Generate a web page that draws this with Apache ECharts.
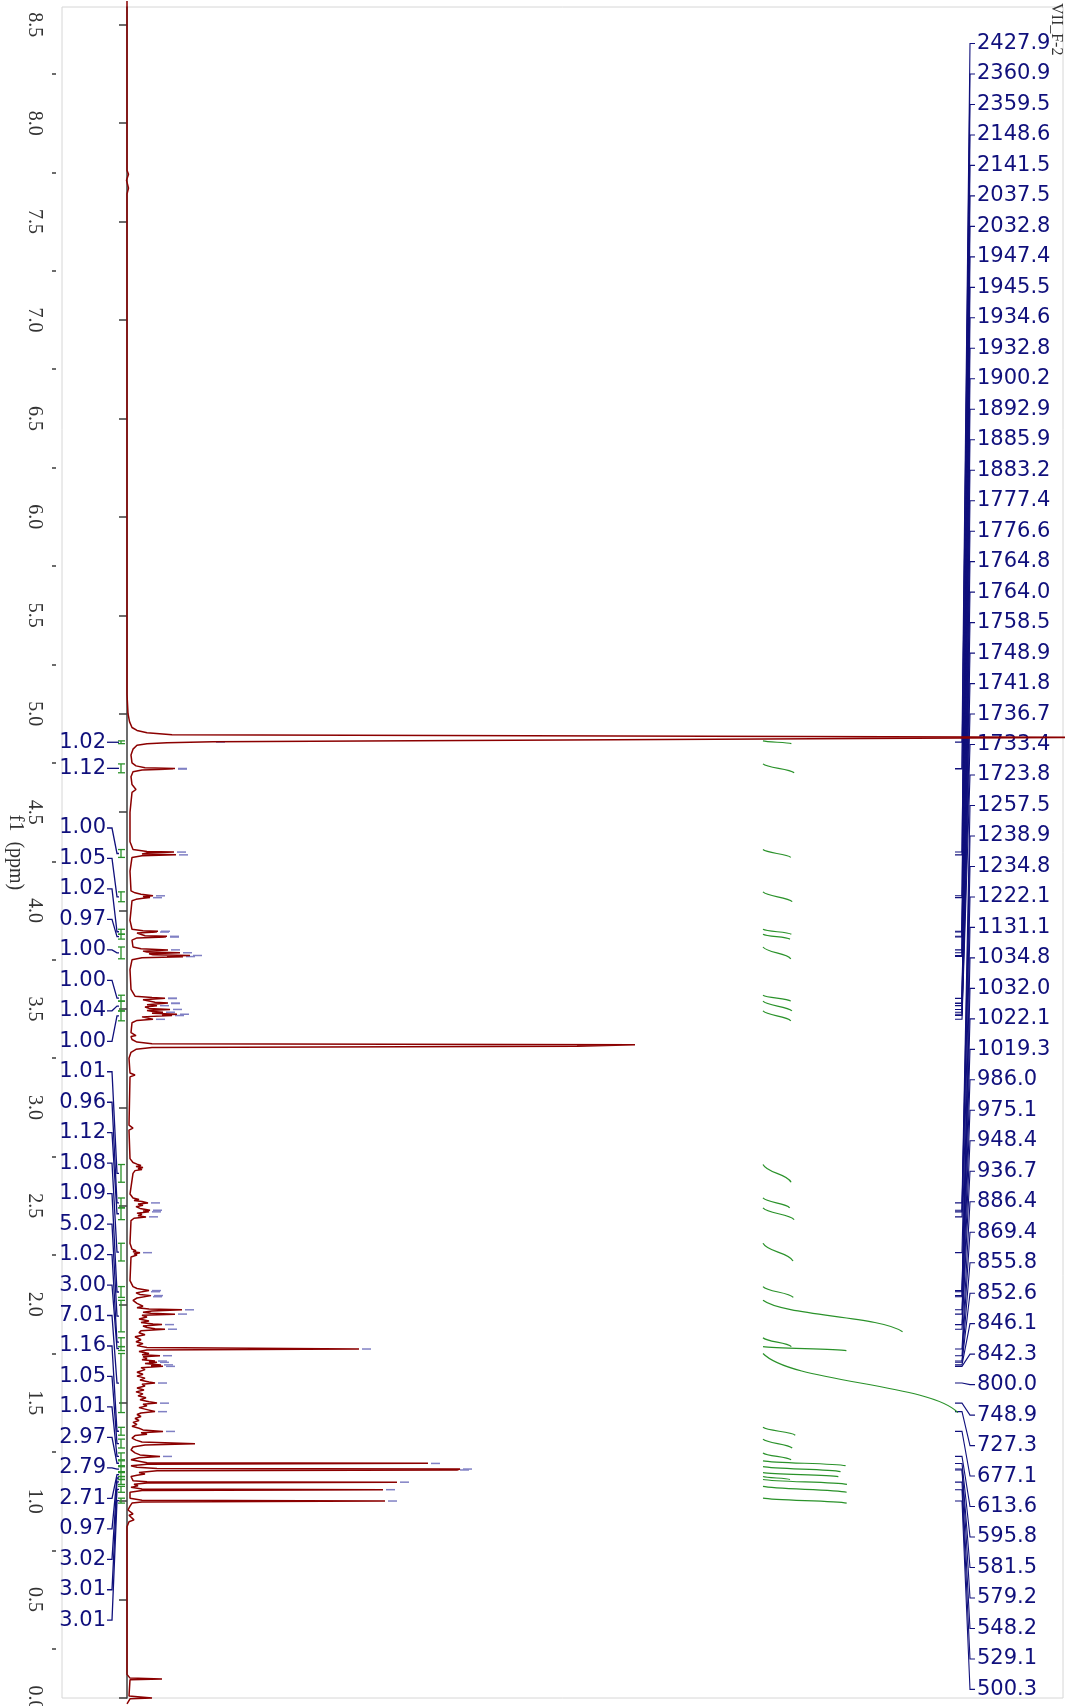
<!DOCTYPE html>
<html>
<head>
<meta charset="utf-8">
<title>VII_F-2</title>
<script src="https://cdn.jsdelivr.net/npm/echarts@6/dist/echarts.min.js"></script>
<style>
  html, body { margin: 0; padding: 0; background: #fff; }
  #main { width: 1070px; height: 1706px; }
</style>
</head>
<body>
<div id="main"></div>
<script>
// 1H spectrum, 500 MHz, shown turned on its side: ppm runs down the page
const SF = 500; // MHz, peak labels are in Hz

const ppmMajorTicks = [0.0, 0.5, 1.0, 1.5, 2.0, 2.5, 3.0, 3.5, 4.0, 4.5, 5.0, 5.5, 6.0, 6.5, 7.0, 7.5, 8.0, 8.5];
const ppmMinorTicks = [0.25, 0.75, 1.25, 1.75, 2.25, 2.75, 3.25, 3.75, 4.25, 4.75, 5.25, 5.75, 6.25, 6.75, 7.25, 7.75, 8.25];

// [ppm, intensity], intensity 0 = baseline
const spectrum = [
  [8.62, 0], [7.76, 0], [7.74, 0.15], [7.71, -0.05], [7.67, 0.15], [7.64, 0],
  [5.10, 0], [5.00, 0.1], [4.96, 0.25], [4.93, 0.5], [4.915, 1.0], [4.903, 2.0], [4.893, 4.5],
  [4.880, 95], [4.857, 8.6], [4.853, 4], [4.848, 2], [4.840, 1.0], [4.82, 0.6],
  [4.79, 0.4], [4.75, 0.5], [4.735, 0.9], [4.726, 1.8], [4.722, 4.8], [4.720, 3.0], [4.719, 4.6],
  [4.714, 1.5], [4.705, 0.6], [4.68, 0.4], [4.64, 0.5], [4.615, 0.9], [4.60, 0.5], [4.50, 0.3],
  [4.35, 0.3], [4.31, 0.6], [4.300, 2.0], [4.297, 4.7], [4.292, 2.0], [4.287, 1.5], [4.283, 4.9],
  [4.279, 1.5], [4.27, 0.5], [4.20, 0.3], [4.10, 0.4], [4.09, 0.8], [4.083, 1.4], [4.078, 2.2],
  [4.075, 2.6], [4.071, 1.6], [4.066, 2.3], [4.062, 1.6], [4.057, 0.9], [4.05, 0.5], [3.95, 0.3],
  [3.905, 0.5], [3.898, 1.6], [3.895, 3.1], [3.893, 2.2], [3.891, 3.0], [3.886, 1.0], [3.878, 0.8],
  [3.872, 1.8], [3.869, 4.0], [3.867, 3.2], [3.866, 3.9], [3.861, 1.0], [3.85, 0.5], [3.815, 0.6],
  [3.806, 1.4], [3.800, 4.1], [3.794, 1.6], [3.789, 2.0], [3.786, 5.3], [3.781, 2.2], [3.776, 2.6],
  [3.772, 6.3], [3.769, 4.0], [3.766, 5.6], [3.760, 1.5], [3.75, 0.5], [3.70, 0.3], [3.60, 0.4],
  [3.565, 0.8], [3.558, 2.5], [3.555, 3.8], [3.553, 3.5], [3.547, 1.6], [3.540, 1.8], [3.534, 2.8],
  [3.530, 4.1], [3.528, 4.0], [3.522, 2.0], [3.517, 3.0], [3.510, 1.8], [3.503, 2.2], [3.498, 4.3],
  [3.492, 2.0], [3.487, 2.6], [3.484, 3.6], [3.478, 2.5], [3.473, 5.0], [3.470, 3.5], [3.467, 4.5],
  [3.460, 1.5], [3.453, 1.4], [3.448, 2.6], [3.442, 1.0], [3.43, 0.5], [3.38, 0.4], [3.365, 0.9],
  [3.36, 0.4], [3.345, 0.5], [3.332, 1.0], [3.324, 2.5], [3.318, 50.8], [3.311, 45], [3.305, 2.5],
  [3.295, 0.9], [3.28, 0.4], [3.25, 0.2], [3.175, 0.3], [3.165, 0.8], [3.155, 0.3], [2.91, 0.2],
  [2.895, 0.6], [2.885, 0.2], [2.74, 0.3], [2.72, 0.6], [2.712, 1.0], [2.705, 1.4], [2.700, 0.9],
  [2.695, 1.6], [2.690, 1.1], [2.685, 1.5], [2.679, 0.8], [2.672, 1.0], [2.665, 0.6], [2.655, 0.4],
  [2.56, 0.3], [2.54, 0.6], [2.532, 1.2], [2.527, 0.7], [2.522, 1.5], [2.515, 2.1], [2.509, 1.1],
  [2.503, 1.6], [2.496, 0.9], [2.487, 1.3], [2.478, 2.3], [2.474, 1.6], [2.470, 2.2], [2.463, 1.0],
  [2.456, 1.5], [2.450, 1.1], [2.444, 1.9], [2.437, 0.7], [2.425, 0.4], [2.31, 0.3], [2.28, 0.5],
  [2.272, 0.9], [2.267, 0.6], [2.262, 1.3], [2.256, 0.7], [2.250, 1.0], [2.24, 0.4], [2.12, 0.3],
  [2.09, 0.6], [2.080, 1.0], [2.070, 2.2], [2.064, 2.1], [2.058, 0.9], [2.050, 1.3], [2.044, 2.4],
  [2.039, 2.3], [2.032, 1.0], [2.02, 0.6], [2.005, 1.0], [1.990, 1.6], [1.983, 1.0], [1.976, 2.2],
  [1.972, 5.5], [1.966, 2.5], [1.960, 1.6], [1.955, 2.4], [1.950, 4.8], [1.944, 1.5], [1.935, 2.0],
  [1.925, 1.2], [1.915, 2.2], [1.907, 1.4], [1.900, 2.6], [1.897, 3.5], [1.890, 1.6], [1.882, 2.0],
  [1.876, 2.8], [1.873, 3.8], [1.866, 1.4], [1.855, 1.2], [1.845, 1.8], [1.835, 0.8], [1.82, 1.4],
  [1.81, 0.9], [1.80, 1.6], [1.79, 1.0], [1.780, 2.0], [1.773, 23.2], [1.768, 2.0], [1.760, 1.2],
  [1.750, 2.2], [1.744, 1.5], [1.739, 3.3], [1.733, 1.6], [1.725, 2.0], [1.718, 1.5], [1.712, 2.8],
  [1.708, 2.2], [1.705, 3.0], [1.699, 1.8], [1.692, 3.4], [1.688, 2.4], [1.685, 3.6], [1.678, 1.4],
  [1.668, 1.8], [1.655, 1.0], [1.645, 1.6], [1.635, 1.0], [1.625, 1.8], [1.615, 1.3], [1.605, 2.2],
  [1.600, 2.8], [1.594, 1.5], [1.585, 1.8], [1.575, 1.0], [1.565, 1.7], [1.555, 0.9], [1.545, 1.6],
  [1.535, 1.1], [1.525, 1.9], [1.515, 1.3], [1.505, 2.2], [1.498, 3.0], [1.492, 1.6], [1.484, 2.0],
  [1.475, 1.2], [1.465, 2.0], [1.455, 2.8], [1.448, 1.4], [1.44, 1.0], [1.43, 1.4], [1.42, 0.8],
  [1.41, 1.2], [1.40, 0.6], [1.39, 1.0], [1.38, 0.5], [1.37, 1.2], [1.362, 1.6], [1.354, 3.6],
  [1.347, 1.4], [1.340, 2.0], [1.333, 0.8], [1.32, 0.5], [1.31, 0.9], [1.300, 1.5], [1.292, 6.8],
  [1.285, 1.8], [1.275, 0.6], [1.26, 0.4], [1.245, 0.8], [1.235, 1.3], [1.227, 3.3], [1.220, 1.2],
  [1.210, 0.4], [1.200, 0.6], [1.195, 2.0], [1.192, 30.1], [1.188, 2.0], [1.180, 0.4], [1.172, 1.0],
  [1.166, 3.0], [1.163, 33.3], [1.158, 33.0], [1.154, 3.0], [1.146, 1.2], [1.138, 1.8], [1.132, 1.0],
  [1.125, 0.4], [1.115, 0.3], [1.104, 0.6], [1.099, 2.0], [1.096, 27.0], [1.092, 2.0], [1.086, 0.7],
  [1.078, 1.1], [1.070, 0.4], [1.062, 1.5], [1.058, 25.6], [1.054, 1.5], [1.045, 0.3], [1.03, 0.3],
  [1.015, 0.3], [1.005, 1.5], [1.0006, 25.8], [0.996, 1.5], [0.99, 0.5], [0.975, 0.3], [0.955, 0.1],
  [0.935, 0.6], [0.928, 0.2], [0.92, 0.4], [0.905, 0.7], [0.895, 0.2], [0.87, 0], [0.12, 0],
  [0.101, 0.3], [0.097, 3.5], [0.093, 0.3], [0.01, 0.2], [0.004, 0.3], [0.000, 2.5], [-0.004, 0.3],
  [-0.03, 0]
];

// peak picking labels, Hz
const peakHz = [
  2427.9, 2360.9, 2359.5, 2148.6, 2141.5, 2037.5, 2032.8, 1947.4, 1945.5, 1934.6, 1932.8,
  1900.2, 1892.9, 1885.9, 1883.2, 1777.4, 1776.6, 1764.8, 1764.0, 1758.5, 1748.9, 1741.8,
  1736.7, 1733.4, 1723.8, 1257.5, 1238.9, 1234.8, 1222.1, 1131.1, 1034.8, 1032.0, 1022.1,
  1019.3, 986.0, 975.1, 948.4, 936.7, 886.4, 869.4, 855.8, 852.6, 846.1, 842.3, 800.0,
  748.9, 727.3, 677.1, 613.6, 595.8, 581.5, 579.2, 548.2, 529.1, 500.3
];

// integral regions (ppm) and their values
const integralValues = [
  1.02, 1.12, 1.00, 1.05, 1.02, 0.97, 1.00, 1.00, 1.04, 1.00, 1.01, 0.96, 1.12, 1.08, 1.09,
  5.02, 1.02, 3.00, 7.01, 1.16, 1.05, 1.01, 2.97, 2.79, 2.71, 0.97, 3.02, 3.01, 3.01
];
const integralFrom = [
  4.862, 4.745, 4.31, 4.095, 3.905, 3.880, 3.815, 3.57, 3.54, 3.49, 2.71, 2.54, 2.49, 2.31, 2.09,
  2.02, 1.83, 1.785, 1.75, 1.375, 1.315, 1.245, 1.205, 1.175, 1.145, 1.125, 1.11, 1.075, 1.015
];
const integralTo = [
  4.848, 4.70, 4.27, 4.045, 3.880, 3.855, 3.755, 3.54, 3.49, 3.44, 2.62, 2.49, 2.43, 2.22, 2.035,
  1.86, 1.785, 1.765, 1.45, 1.335, 1.27, 1.21, 1.18, 1.15, 1.125, 1.11, 1.085, 1.045, 0.99
];

const NAVY = '#10107c';
const RED = '#8b0000';
const GREEN = '#2a922a';

// layout (pixels)
const PEAK_LABEL_TOP = 36.5;   // first peak label below grid top
const PEAK_LABEL_STEP = 30.48;
const INT_LABEL_TOP = 828;     // stacked integral labels start here
const INT_LABEL_STEP = 30.47;
const INTEGRAL_X0 = 63.6;      // intensity units where integral curves start
const INTEGRAL_SCALE = 2.78;   // intensity units per integral unit

// tallest trace point near a shift, for the peak-pick dash
function peakTip(ppm) {
  let best = 0;
  spectrum.forEach(p => {
    if (Math.abs(p[0] - ppm) <= 0.0035 && p[1] > best) best = p[1];
  });
  return Math.min(best, 90);
}

function renderPeakLabel(params, api) {
  const i = params.dataIndex;
  const cs = params.coordSys;
  const hz = api.value(2);
  const ppm = hz / SF;
  const yPeak = api.coord([0, ppm])[1];
  const right = cs.x + cs.width;
  const yLabel = cs.y + PEAK_LABEL_TOP + i * PEAK_LABEL_STEP;
  const tipX = api.coord([peakTip(ppm), ppm])[0];
  return {
    type: 'group',
    children: [
      {
        type: 'polyline',
        shape: { points: [[right - 108, yPeak], [right - 101, yPeak], [right - 93, yLabel], [right - 88, yLabel]] },
        style: { stroke: NAVY, lineWidth: 1.1, fill: null }
      },
      {
        type: 'line',
        shape: { x1: tipX + 3, y1: yPeak, x2: tipX + 12, y2: yPeak },
        style: { stroke: '#8080c4', lineWidth: 1.5 }
      },
      {
        type: 'text',
        x: right - 86,
        y: yLabel,
        style: { text: hz.toFixed(1), font: '21px "DejaVu Sans"', fill: NAVY, align: 'left', verticalAlign: 'middle' }
      }
    ]
  };
}

function renderIntegral(params, api) {
  const i = params.dataIndex;
  const v = api.value(2);
  const from = api.value(3);
  const to = api.value(4);
  const p0 = api.coord([0, from]);
  const x0 = p0[0];
  const yFrom = p0[1];
  const yTo = api.coord([0, to])[1];
  const yMid = (yFrom + yTo) / 2;
  const yLabel = i < 2 ? yMid : INT_LABEL_TOP + (i - 2) * INT_LABEL_STEP;
  const c0 = api.coord([INTEGRAL_X0, from]);
  const c1 = api.coord([INTEGRAL_X0 + v * INTEGRAL_SCALE, to]);
  const dx = c1[0] - c0[0];
  const dy = c1[1] - c0[1];
  return {
    type: 'group',
    children: [
      {
        type: 'line',
        shape: { x1: x0 - 6, y1: yFrom, x2: x0 - 6, y2: yTo },
        style: { stroke: GREEN, lineWidth: 1.3 }
      },
      {
        type: 'line',
        shape: { x1: x0 - 9, y1: yFrom, x2: x0 - 2, y2: yFrom },
        style: { stroke: GREEN, lineWidth: 1.3 }
      },
      {
        type: 'line',
        shape: { x1: x0 - 9, y1: yTo, x2: x0 - 2, y2: yTo },
        style: { stroke: GREEN, lineWidth: 1.3 }
      },
      {
        type: 'polyline',
        shape: { points: [[x0 - 20, yLabel], [x0 - 15, yLabel], [x0 - 10, yMid], [x0 - 8, yMid]] },
        style: { stroke: NAVY, lineWidth: 1.3, fill: null }
      },
      {
        type: 'bezierCurve',
        shape: {
          x1: c0[0], y1: c0[1], x2: c1[0], y2: c1[1],
          cpx1: c0[0] + dx * 0.15, cpy1: c0[1] + dy * 0.5,
          cpx2: c1[0] - dx * 0.15, cpy2: c1[1] - dy * 0.5
        },
        style: { stroke: GREEN, lineWidth: 1.2, fill: null }
      },
      {
        type: 'text',
        x: x0 - 21,
        y: yLabel,
        style: { text: v.toFixed(2), font: '21px "DejaVu Sans"', fill: NAVY, align: 'right', verticalAlign: 'middle' }
      }
    ]
  };
}

const chart = echarts.init(document.getElementById('main'));

chart.setOption({
  animation: false,
  backgroundColor: '#fff',
  grid: {
    left: 62, right: 7, top: 7, bottom: 8,
    containLabel: false,
    outerBoundsMode: 'none',
    show: true, borderColor: '#d6d6d6', borderWidth: 1
  },
  xAxis: { type: 'value', min: -6.5, max: 93.6, show: false },
  yAxis: [
    {
      type: 'value',
      min: 0,
      max: 8.59,
      position: 'left',
      offset: 6,
      name: 'f1  (ppm)',
      nameLocation: 'middle',
      nameRotate: -90,
      nameGap: 31,
      nameMoveOverlap: false,
      nameTextStyle: { fontFamily: 'Liberation Serif', fontSize: 20, color: '#333' },
      axisLine: { show: true, lineStyle: { color: '#3c3c3c', width: 1.5 } },
      axisTick: { show: true, length: 8, customValues: ppmMajorTicks, lineStyle: { color: '#3c3c3c', width: 1.5 } },
      axisLabel: {
        rotate: -90,
        margin: 12,
        customValues: ppmMajorTicks,
        formatter: v => v.toFixed(1),
        fontFamily: 'Liberation Serif',
        fontSize: 20,
        color: '#333'
      },
      splitLine: { show: false }
    },
    {
      type: 'value',
      min: 0,
      max: 8.59,
      position: 'left',
      offset: 6,
      axisLine: { show: false },
      axisTick: { show: true, length: 4, customValues: ppmMinorTicks, lineStyle: { color: '#3c3c3c', width: 1.5 } },
      axisLabel: { show: false },
      splitLine: { show: false }
    }
  ],
  graphic: [
    {
      type: 'text',
      x: 1064,
      y: 3,
      rotation: -Math.PI / 2,
      style: { text: 'VII_F-2', font: '16px "Liberation Serif"', fill: '#333', align: 'left', verticalAlign: 'top' }
    }
  ],
  series: [
    {
      type: 'custom',
      name: 'peaks',
      silent: true,
      z: 2,
      renderItem: renderPeakLabel,
      data: peakHz.map(hz => [0, hz / SF, hz])
    },
    {
      type: 'custom',
      name: 'integrals',
      silent: true,
      z: 2,
      renderItem: renderIntegral,
      data: integralValues.map((v, i) => [0, (integralFrom[i] + integralTo[i]) / 2, v, integralFrom[i], integralTo[i]])
    },
    {
      type: 'line',
      name: 'spectrum',
      silent: true,
      z: 5,
      clip: false,
      showSymbol: false,
      lineStyle: { color: RED, width: 1.5 },
      data: spectrum.map(p => [p[1], p[0]])
    }
  ]
});
</script>
</body>
</html>
